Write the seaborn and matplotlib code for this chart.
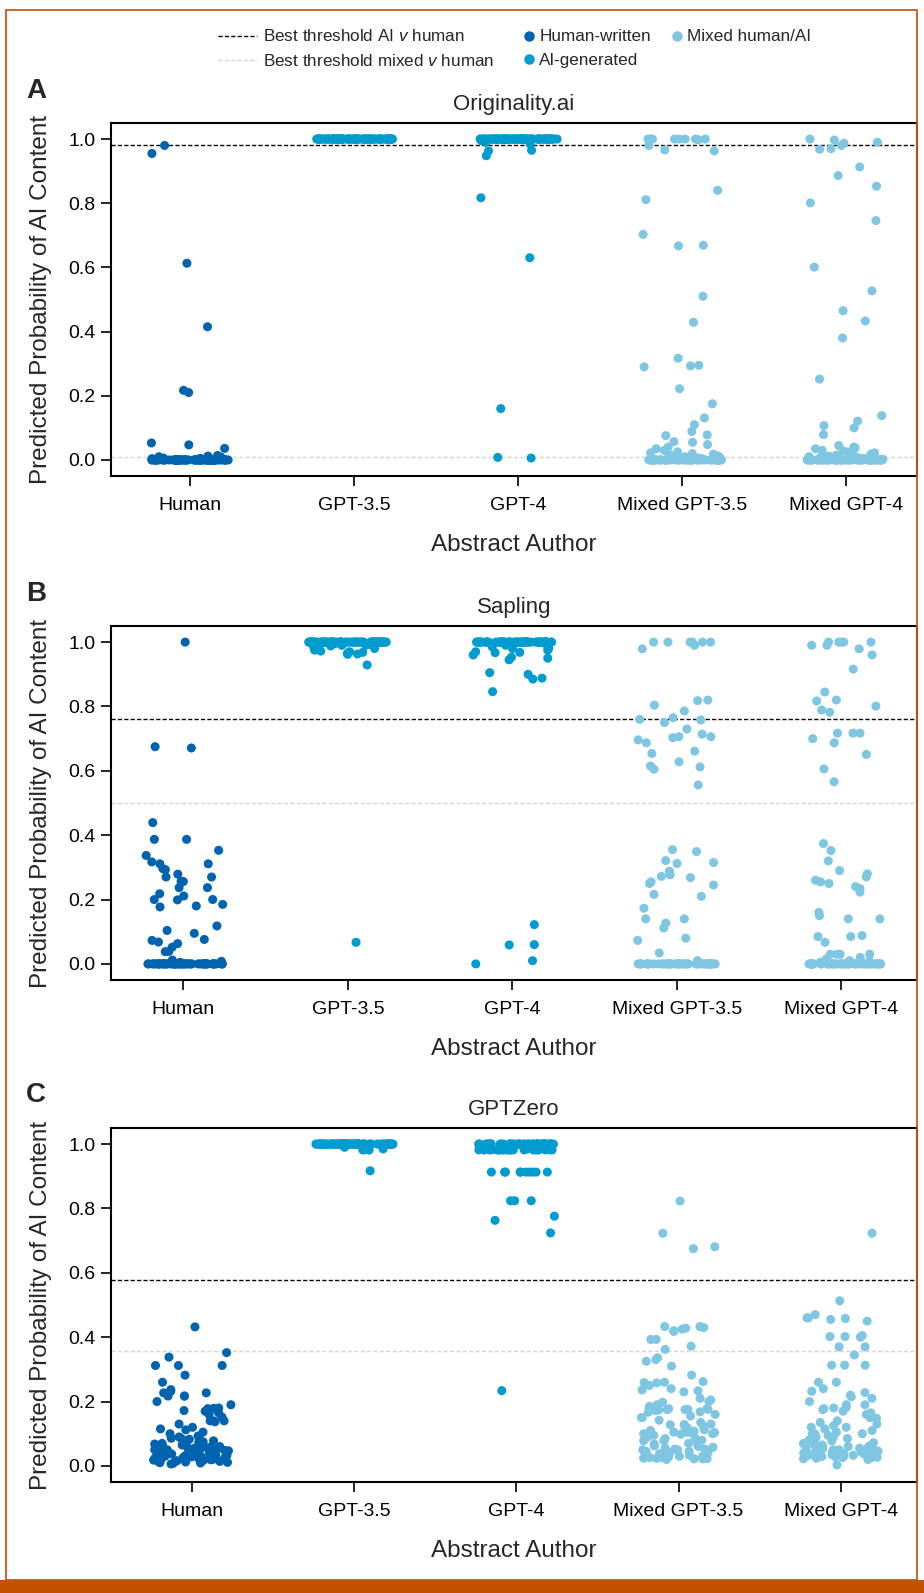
import numpy as np
import pandas as pd
import matplotlib
matplotlib.use("Agg")
import matplotlib.pyplot as plt
import seaborn as sns
from matplotlib.lines import Line2D
from matplotlib.patches import Rectangle

sns.set_theme(style="ticks")
plt.rcParams["font.family"] = ["Liberation Sans", "DejaVu Sans"]
plt.rcParams["mathtext.fontset"] = "custom"
plt.rcParams["mathtext.it"] = "Liberation Sans:italic"
plt.rcParams["mathtext.rm"] = "Liberation Sans"

# ---------------- data ----------------
authors = ["Human", "GPT-3.5", "GPT-4", "Mixed GPT-3.5", "Mixed GPT-4"]
sources = ["Human-written", "AI-generated", "Mixed human/AI"]
author_source = ["Human-written", "AI-generated", "AI-generated", "Mixed human/AI", "Mixed human/AI"]
colors = ["#0063b0", "#009bcf", "#7ec6e1"]
detectors = ["Originality.ai", "Sapling", "GPTZero"]
panel_letters = ["A", "B", "C"]
thr_ai = [0.981, 0.76, 0.577]
thr_mixed = [0.01, 0.5, 0.356]
yticks = [0.0, 0.2, 0.4, 0.6, 0.8, 1.0]
ytick_labels = ["0.0", "0.2", "0.4", "0.6", "0.8", "1.0"]

# Originality.ai
orig_human = [0.98, 0.955, 0.613, 0.415, 0.217, 0.21, 0.053, 0.047, 0.036, 0.014, 0.012,
              0.01, 0.009, 0.008, 0.006, 0.005, 0.004, 0.003] + [0.0] * 82
orig_gpt35 = [1.0] * 100
orig_gpt4 = [1.0] * 88 + [0.995, 0.99, 0.985, 0.965, 0.963, 0.948, 0.817, 0.63, 0.16, 0.008, 0.006]
orig_mix35 = [1.0] * 8 + [0.998, 0.98, 0.966, 0.963, 0.84, 0.811, 0.703, 0.669, 0.667, 0.51, 0.429,
                          0.317, 0.295, 0.293, 0.29, 0.222, 0.175, 0.131, 0.11, 0.089, 0.078, 0.076,
                          0.057, 0.055, 0.048, 0.04, 0.035, 0.03, 0.025, 0.022, 0.02, 0.018, 0.015,
                          0.012, 0.01, 0.01, 0.008, 0.006, 0.005, 0.004, 0.003, 0.002] + [0.0] * 50
orig_mix4 = [1.0, 0.997, 0.99, 0.987, 0.98, 0.97, 0.968, 0.913, 0.886, 0.853, 0.801, 0.746, 0.601,
             0.527, 0.465, 0.433, 0.38, 0.252, 0.138, 0.121, 0.107, 0.10, 0.079, 0.045, 0.04, 0.038,
             0.035, 0.03, 0.028, 0.025, 0.022, 0.02, 0.018, 0.015, 0.013, 0.012, 0.01, 0.009, 0.008,
             0.007, 0.006, 0.005, 0.004, 0.003, 0.002, 0.001] + [0.0] * 54

# Sapling
sap_human = [1.0, 0.675, 0.671, 0.439, 0.387, 0.387, 0.353, 0.337, 0.317, 0.311, 0.311, 0.296, 0.293,
             0.279, 0.27, 0.27, 0.256, 0.256, 0.256, 0.237, 0.237, 0.218, 0.211, 0.2, 0.2, 0.199,
             0.185, 0.18, 0.177, 0.118, 0.104, 0.095, 0.076, 0.073, 0.068, 0.063, 0.052, 0.039,
             0.038, 0.012, 0.008, 0.005, 0.003] + [0.0] * 57
sap_gpt35 = [1.0] * 80 + [0.995, 0.993, 0.99, 0.99, 0.988, 0.985, 0.985, 0.98, 0.98, 0.975, 0.972,
                          0.97, 0.968, 0.965, 0.963, 0.962, 0.929, 0.067]
sap_gpt4 = [1.0] * 70 + [0.995, 0.99, 0.99, 0.985, 0.98, 0.98, 0.975, 0.97, 0.968, 0.967, 0.96,
                         0.953, 0.95, 0.945, 0.905, 0.9, 0.888, 0.885, 0.846, 0.122, 0.06, 0.059,
                         0.01, 0.0]
sap_mix35 = [1.0] * 6 + [0.99, 0.979, 0.82, 0.818, 0.804, 0.786, 0.765, 0.76, 0.758, 0.75, 0.73,
                         0.714, 0.706, 0.706, 0.703, 0.696, 0.687, 0.661, 0.654, 0.628, 0.615, 0.612,
                         0.605, 0.556, 0.355, 0.349, 0.321, 0.315, 0.312, 0.288, 0.277, 0.272, 0.268,
                         0.255, 0.25, 0.245, 0.216, 0.21, 0.173, 0.14, 0.14, 0.127, 0.112, 0.08,
                         0.073, 0.034, 0.01, 0.006, 0.003] + [0.0] * 45
sap_mix4 = [1.0] * 5 + [0.99, 0.99, 0.979, 0.96, 0.916, 0.845, 0.82, 0.817, 0.801, 0.789, 0.782,
                        0.717, 0.717, 0.717, 0.7, 0.687, 0.651, 0.606, 0.566, 0.374, 0.352, 0.32,
                        0.29, 0.28, 0.27, 0.26, 0.255, 0.25, 0.24, 0.234, 0.223, 0.16, 0.15, 0.14,
                        0.14, 0.088, 0.085, 0.085, 0.067, 0.03, 0.03, 0.03, 0.03, 0.02, 0.015, 0.01,
                        0.008, 0.005] + [0.0] * 45

# GPTZero
gz_human = [0.432, 0.352, 0.338, 0.312, 0.312, 0.312, 0.282, 0.26, 0.237, 0.232, 0.227, 0.227, 0.217,
            0.217, 0.217, 0.2, 0.19, 0.18, 0.179, 0.178, 0.172, 0.17, 0.165, 0.16, 0.152, 0.14,
            0.14, 0.14, 0.137, 0.13, 0.12, 0.115, 0.112, 0.105, 0.1, 0.093, 0.09, 0.086, 0.085,
            0.083, 0.083, 0.08, 0.078, 0.075, 0.072, 0.07, 0.068, 0.065, 0.062, 0.06, 0.06, 0.058,
            0.056, 0.055, 0.055, 0.054, 0.052, 0.05, 0.05, 0.048, 0.047, 0.045, 0.044, 0.042,
            0.04, 0.04, 0.038, 0.037, 0.035, 0.034, 0.033, 0.032, 0.03, 0.03, 0.029, 0.028,
            0.027, 0.026, 0.025, 0.024, 0.023, 0.022, 0.021, 0.02, 0.02, 0.019, 0.018, 0.017,
            0.016, 0.015, 0.014, 0.013, 0.012, 0.011, 0.01, 0.009, 0.008, 0.006]
gz_gpt35 = [1.0] * 90 + [0.99, 0.985, 0.982, 0.982, 0.982, 0.982, 0.917]
gz_gpt4 = [1.0] * 55 + [0.985] + [0.982] * 25 + [0.913] * 10 + [0.824, 0.824, 0.824, 0.776, 0.763,
                                                                0.724, 0.234]
gz_mix35 = [0.823, 0.723, 0.681, 0.675, 0.433, 0.43, 0.428, 0.425, 0.42, 0.418, 0.433, 0.393, 0.393,
            0.372, 0.362, 0.336, 0.33, 0.325, 0.31, 0.282, 0.262, 0.26, 0.259, 0.258, 0.25, 0.24,
            0.236, 0.233, 0.23, 0.21, 0.205, 0.2, 0.198, 0.18, 0.178, 0.177, 0.176, 0.176, 0.175,
            0.175, 0.174, 0.167, 0.15, 0.15, 0.13, 0.129, 0.128, 0.125, 0.12, 0.11, 0.108, 0.105,
            0.104, 0.104, 0.1, 0.1, 0.095, 0.09, 0.085, 0.08, 0.078, 0.078, 0.075, 0.07, 0.065,
            0.06, 0.058, 0.055, 0.052, 0.052, 0.05, 0.05, 0.048, 0.045, 0.042, 0.04, 0.038, 0.035,
            0.033, 0.03, 0.028, 0.025, 0.024, 0.023, 0.023, 0.022, 0.022, 0.02,
            0.19, 0.185, 0.172, 0.168, 0.16, 0.155, 0.142, 0.135, 0.118, 0.112, 0.098, 0.088,
            0.068, 0.062, 0.045, 0.04, 0.03, 0.026]
gz_mix4 = [0.723, 0.513, 0.47, 0.46, 0.46, 0.458, 0.455, 0.45, 0.405, 0.402, 0.402, 0.4, 0.37, 0.37,
           0.345, 0.313, 0.313, 0.313, 0.26, 0.26, 0.24, 0.232, 0.228, 0.22, 0.215, 0.21, 0.19,
           0.18, 0.178, 0.17, 0.15, 0.148, 0.13, 0.125, 0.12, 0.12, 0.105, 0.1, 0.1, 0.098, 0.095,
           0.09, 0.085, 0.08, 0.078, 0.075, 0.072, 0.07, 0.068, 0.065, 0.062, 0.06, 0.058, 0.055,
           0.055, 0.053, 0.052, 0.05, 0.05, 0.048, 0.047, 0.045, 0.044, 0.043, 0.042, 0.04, 0.04,
           0.038, 0.037, 0.036, 0.035, 0.034, 0.033, 0.032, 0.031, 0.03, 0.03, 0.028, 0.027,
           0.026, 0.025, 0.024, 0.022, 0.02, 0.003,
           0.2, 0.19, 0.182, 0.175, 0.165, 0.16, 0.14, 0.135, 0.115, 0.11, 0.09, 0.085, 0.066,
           0.06, 0.046, 0.041, 0.035, 0.029]

panel_data = [
    [orig_human, orig_gpt35, orig_gpt4, orig_mix35, orig_mix4],
    [sap_human, sap_gpt35, sap_gpt4, sap_mix35, sap_mix4],
    [gz_human, gz_gpt35, gz_gpt4, gz_mix35, gz_mix4],
]

# ---------------- layout (pixels) ----------------
W, H = 924, 1593
fig = plt.figure(figsize=(W / 100, H / 100), dpi=100)
fig.patch.set_facecolor("white")

boxes = [(111, 123, 917, 476), (111, 626, 917, 980), (111, 1128, 917, 1482)]
xlims = [(-0.48, 4.43), (-0.44, 4.46), (-0.50, 4.47)]
letter_y = [91, 594, 1095]
palette = dict(zip(sources, colors))
ai_line = dict(color="black", ls=(0, (3.0, 1.6)), lw=1.0)
mix_line = dict(color="#d6d6d6", ls=(0, (3.0, 1.6)), lw=1.0)

np.random.seed(11)
for i in range(3):
    l, t, r, b = boxes[i]
    ax = fig.add_axes([l / W, 1 - b / H, (r - l) / W, (b - t) / H])
    rows = []
    for a, src, vals in zip(authors, author_source, panel_data[i]):
        for v in vals:
            rows.append((a, src, v))
    df = pd.DataFrame(rows, columns=["author", "source", "prob"])
    sns.stripplot(data=df, x="author", y="prob", hue="source", order=authors,
                  hue_order=sources, palette=palette, jitter=0.24, size=6.5,
                  linewidth=0, legend=False, ax=ax, zorder=3)
    ax.axhline(thr_ai[i], zorder=1, **ai_line)
    ax.axhline(thr_mixed[i], zorder=1, **mix_line)
    ax.set_ylim(-0.05, 1.05)
    ax.set_xlim(*xlims[i])
    ax.set_yticks(yticks)
    ax.set_yticklabels(ytick_labels)
    ax.set_title(detectors[i], fontsize=16, pad=9.5)
    ax.set_xlabel("Abstract Author", fontsize=17.5, labelpad=14.5)
    ax.set_ylabel("Predicted Probability of AI Content", fontsize=17.5, labelpad=12)
    for s in ax.spines.values():
        s.set_linewidth(1.5)
        s.set_color("black")
        s.set_visible(True)
    ax.tick_params(axis="x", length=7, width=1.2, labelsize=14, pad=8, colors="black")
    ax.tick_params(axis="y", length=7, width=1.2, labelsize=14, pad=4, colors="black")
    ax.set_facecolor("white")
    fig.text(36 / W, 1 - letter_y[i] / H, panel_letters[i], ha="center", va="center",
             fontsize=20, fontweight="bold")

# ---------------- legends ----------------
line_handles = [Line2D([], [], **ai_line), Line2D([], [], **mix_line)]
line_labels = ["Best threshold AI $\\it{v}$ human", "Best threshold mixed $\\it{v}$ human"]
fig.legend(line_handles, line_labels, loc="center left", bbox_to_anchor=(218 / W, 1 - 48.5 / H),
           frameon=False, fontsize=12.3, handlelength=2.3, handletextpad=0.35, borderpad=0,
           borderaxespad=0, labelspacing=0.47)
dot_handles = [Line2D([], [], marker="o", ls="", color=c, markersize=6.5) for c in colors]
fig.legend(dot_handles, sources, loc="center left", bbox_to_anchor=(524 / W, 1 - 48.5 / H),
           ncol=2, frameon=False, fontsize=12.3, handlelength=0.6, handletextpad=0.3,
           borderpad=0, borderaxespad=0, labelspacing=0.47, columnspacing=1.2)

# ---------------- frame ----------------
orange = "#c9571a"
fig.add_artist(Rectangle((6 / W, 13 / H), (W - 7) / W - 6 / W, (H - 10) / H - 13 / H,
                         transform=fig.transFigure, fill=False, edgecolor=orange, lw=1.3))
fig.add_artist(Rectangle((0, 0), 1, 13 / H, transform=fig.transFigure, facecolor="#c45100",
                         edgecolor="none"))

fig.savefig("out.png", dpi=100)
